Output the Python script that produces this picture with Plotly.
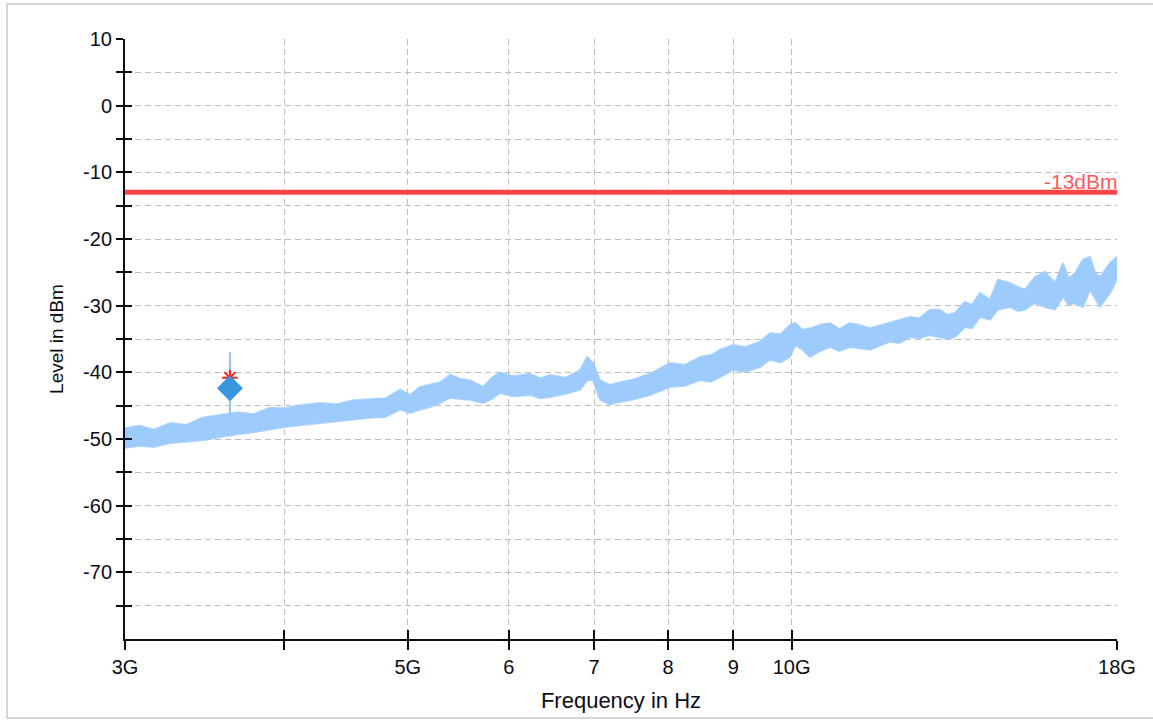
import numpy as np
import plotly.graph_objects as go

# ---------------- data ----------------
freq_ghz = [3.000, 3.080, 3.160, 3.254, 3.350, 3.450, 3.561, 3.680, 3.780, 3.898,
            4.000, 4.130, 4.267, 4.400, 4.530, 4.670, 4.800, 4.931, 5.020, 5.112,
            5.205, 5.300, 5.397, 5.500, 5.595, 5.728, 5.820, 5.907, 6.050, 6.236,
            6.350, 6.464, 6.650, 6.825, 6.912, 6.987, 7.076, 7.200, 7.336, 7.540,
            7.745, 8.029, 8.250, 8.476, 8.650, 8.788, 8.997, 9.200, 9.446, 9.619,
            9.800, 9.972, 10.063, 10.200, 10.339, 10.530, 10.719, 10.900, 11.113, 11.300,
            11.522, 11.945, 12.150, 12.384, 12.600, 12.839, 13.074, 13.250, 13.433, 13.677,
            13.850, 14.053, 14.309, 14.517, 14.835, 15.050, 15.243, 15.521, 15.804, 16.092,
            16.326, 16.500, 16.684, 16.927, 17.142, 17.300, 17.455, 17.773, 18.000]
band_upper_dbm = [-48.4, -48.0, -48.6, -47.6, -47.9, -46.8, -46.4, -46.0, -46.3, -45.3,
                  -45.4, -44.9, -44.6, -44.8, -44.2, -44.1, -43.9, -42.6, -43.4, -42.2,
                  -41.9, -41.5, -40.4, -41.0, -41.2, -42.2, -40.8, -40.0, -40.6, -40.2,
                  -40.9, -40.4, -40.8, -39.7, -37.7, -38.6, -41.2, -41.9, -41.5, -41.0,
                  -40.2, -38.6, -38.9, -37.7, -37.4, -36.6, -35.9, -36.2, -35.4, -34.1,
                  -34.3, -32.9, -32.6, -33.6, -33.4, -32.9, -32.6, -33.5, -32.6, -32.9,
                  -33.4, -32.6, -32.2, -31.7, -31.9, -30.6, -30.6, -31.4, -31.1, -29.4,
                  -29.9, -28.1, -29.1, -26.1, -26.6, -27.2, -27.6, -25.7, -24.9, -26.6,
                  -23.6, -25.9, -25.1, -23.1, -22.7, -25.0, -25.7, -23.6, -22.7]
band_lower_dbm = [-51.3, -51.0, -51.2, -50.6, -50.4, -50.2, -49.7, -49.3, -49.0, -48.6,
                  -48.2, -47.9, -47.6, -47.3, -47.1, -46.8, -46.7, -45.6, -46.1, -45.6,
                  -45.2, -44.6, -43.8, -44.0, -44.1, -44.6, -44.0, -43.1, -43.6, -43.4,
                  -43.9, -43.7, -43.2, -42.6, -41.2, -41.2, -44.1, -44.8, -44.4, -44.0,
                  -43.4, -42.2, -42.0, -41.2, -41.4, -40.7, -39.6, -39.9, -39.2, -38.1,
                  -38.5, -37.7, -35.9, -36.6, -37.7, -36.8, -36.2, -36.8, -36.2, -36.4,
                  -36.6, -35.4, -35.6, -34.7, -34.9, -34.4, -34.7, -35.0, -34.7, -33.2,
                  -33.4, -31.7, -32.1, -30.6, -30.2, -30.8, -30.6, -29.6, -30.2, -30.6,
                  -28.7, -29.9, -29.6, -30.2, -27.6, -28.9, -30.2, -28.1, -26.1]

limit_dbm = -13
limit_label = "-13dBm"
limit_span_ghz = [3.0, 18.0]

peak_freq_ghz = 3.626
peak_level_dbm = -42.4
peak_marker_dbm = -40.8
peak_stem_dbm = [-37.0, -46.4]

xtick_ghz = [3, 4, 5, 6, 7, 8, 9, 10, 18]
xtick_text = ["3G", "", "5G", "6", "7", "8", "9", "10G", "18G"]
ytick_vals = list(range(-75, 11, 5))
ytick_text = [str(v) if v % 10 == 0 else "" for v in ytick_vals]
y_range = [-80, 10]
x_range_ghz = [3, 18]

# ---------------- figure ----------------
FONT = "Liberation Sans, Arial, sans-serif"
GRID = "#bdbdbd"
BAND = "#9ccbfc"
INK = "#0c0c16"

f_hz = np.array(freq_ghz) * 1e9
fig = go.Figure()

# noise band as filled polygon
fig.add_trace(go.Scatter(
    x=np.concatenate([f_hz, f_hz[::-1]]),
    y=np.concatenate([np.array(band_upper_dbm), np.array(band_lower_dbm)[::-1]]),
    mode="lines", fill="toself", fillcolor=BAND,
    line=dict(color="rgba(156,203,252,0.8)", width=2), hoverinfo="skip", showlegend=False))

# peak stem
fig.add_trace(go.Scatter(
    x=[peak_freq_ghz * 1e9] * 2, y=peak_stem_dbm, mode="lines",
    line=dict(color="#8ec3f7", width=2), showlegend=False))
# red asterisk
fig.add_trace(go.Scatter(
    x=[peak_freq_ghz * 1e9], y=[peak_marker_dbm], mode="markers",
    marker=dict(symbol="asterisk-open", size=13, color="#ff2020",
                line=dict(color="#ff2020", width=2)),
    showlegend=False))
# diamond
fig.add_trace(go.Scatter(
    x=[peak_freq_ghz * 1e9], y=[peak_level_dbm], mode="markers",
    marker=dict(symbol="diamond", size=20, color="#3a96dc", line=dict(width=0)),
    showlegend=False))

# limit line (on overlay axes that carry the inside half of the ticks)
fig.add_trace(go.Scatter(
    x=[v * 1e9 for v in limit_span_ghz], y=[limit_dbm, limit_dbm], mode="lines",
    line=dict(color="#ff4646", width=5), xaxis="x2", yaxis="y2", showlegend=False))

xr = [np.log10(x_range_ghz[0] * 1e9), np.log10(x_range_ghz[1] * 1e9)]
xt = [v * 1e9 for v in xtick_ghz]

fig.update_layout(
    width=1153, height=721,
    margin=dict(l=125, r=36, t=39, b=82),
    paper_bgcolor="white", plot_bgcolor="white",
    font=dict(family=FONT, color=INK),
    xaxis=dict(type="log", range=xr, tickvals=xt, ticktext=xtick_text,
               ticks="outside", ticklen=9, tickwidth=2, tickcolor=INK,
               showline=True, linecolor=INK, linewidth=2,
               showgrid=True, gridcolor=GRID, gridwidth=1, griddash="6px,4px",
               zeroline=False, tickfont=dict(size=20, family=FONT, color=INK),
               title=dict(text="Frequency in Hz", font=dict(size=22, family=FONT, color=INK),
                          standoff=16)),
    yaxis=dict(range=y_range, tickvals=ytick_vals, ticktext=ytick_text,
               ticks="outside", ticklen=7, tickwidth=2, tickcolor=INK,
               showline=True, linecolor=INK, linewidth=2,
               showgrid=True, gridcolor=GRID, gridwidth=1, griddash="6px,4px",
               zeroline=False, tickfont=dict(size=20, family=FONT, color=INK),
               title=dict(text="Level in dBm", font=dict(size=19, family=FONT, color=INK),
                          standoff=14)),
    xaxis2=dict(type="log", range=xr, tickvals=xt, ticktext=[""] * len(xt),
                overlaying="x", anchor="y2", side="bottom",
                ticks="inside", ticklen=9, tickwidth=2, tickcolor=INK,
                showticklabels=False, showgrid=False, showline=False, zeroline=False),
    yaxis2=dict(range=y_range, tickvals=ytick_vals, ticktext=[""] * len(ytick_vals),
                overlaying="y", anchor="x2", side="left",
                ticks="inside", ticklen=7, tickwidth=2, tickcolor=INK,
                showticklabels=False, showgrid=False, showline=False, zeroline=False),
    annotations=[dict(x=xr[1], y=limit_dbm, xref="x", yref="y", text=limit_label,
                      showarrow=False, xanchor="right", yanchor="bottom", yshift=-3, xshift=3,
                      font=dict(size=21, family=FONT, color="#ff5a5a"))],
    shapes=[dict(type="rect", xref="paper", yref="paper",
                 x0=-0.119, x1=1.06, y0=-0.1317, y1=1.0583,
                 line=dict(color="#d6d6d6", width=2), layer="below")],
)

fig.write_html("out.html")
